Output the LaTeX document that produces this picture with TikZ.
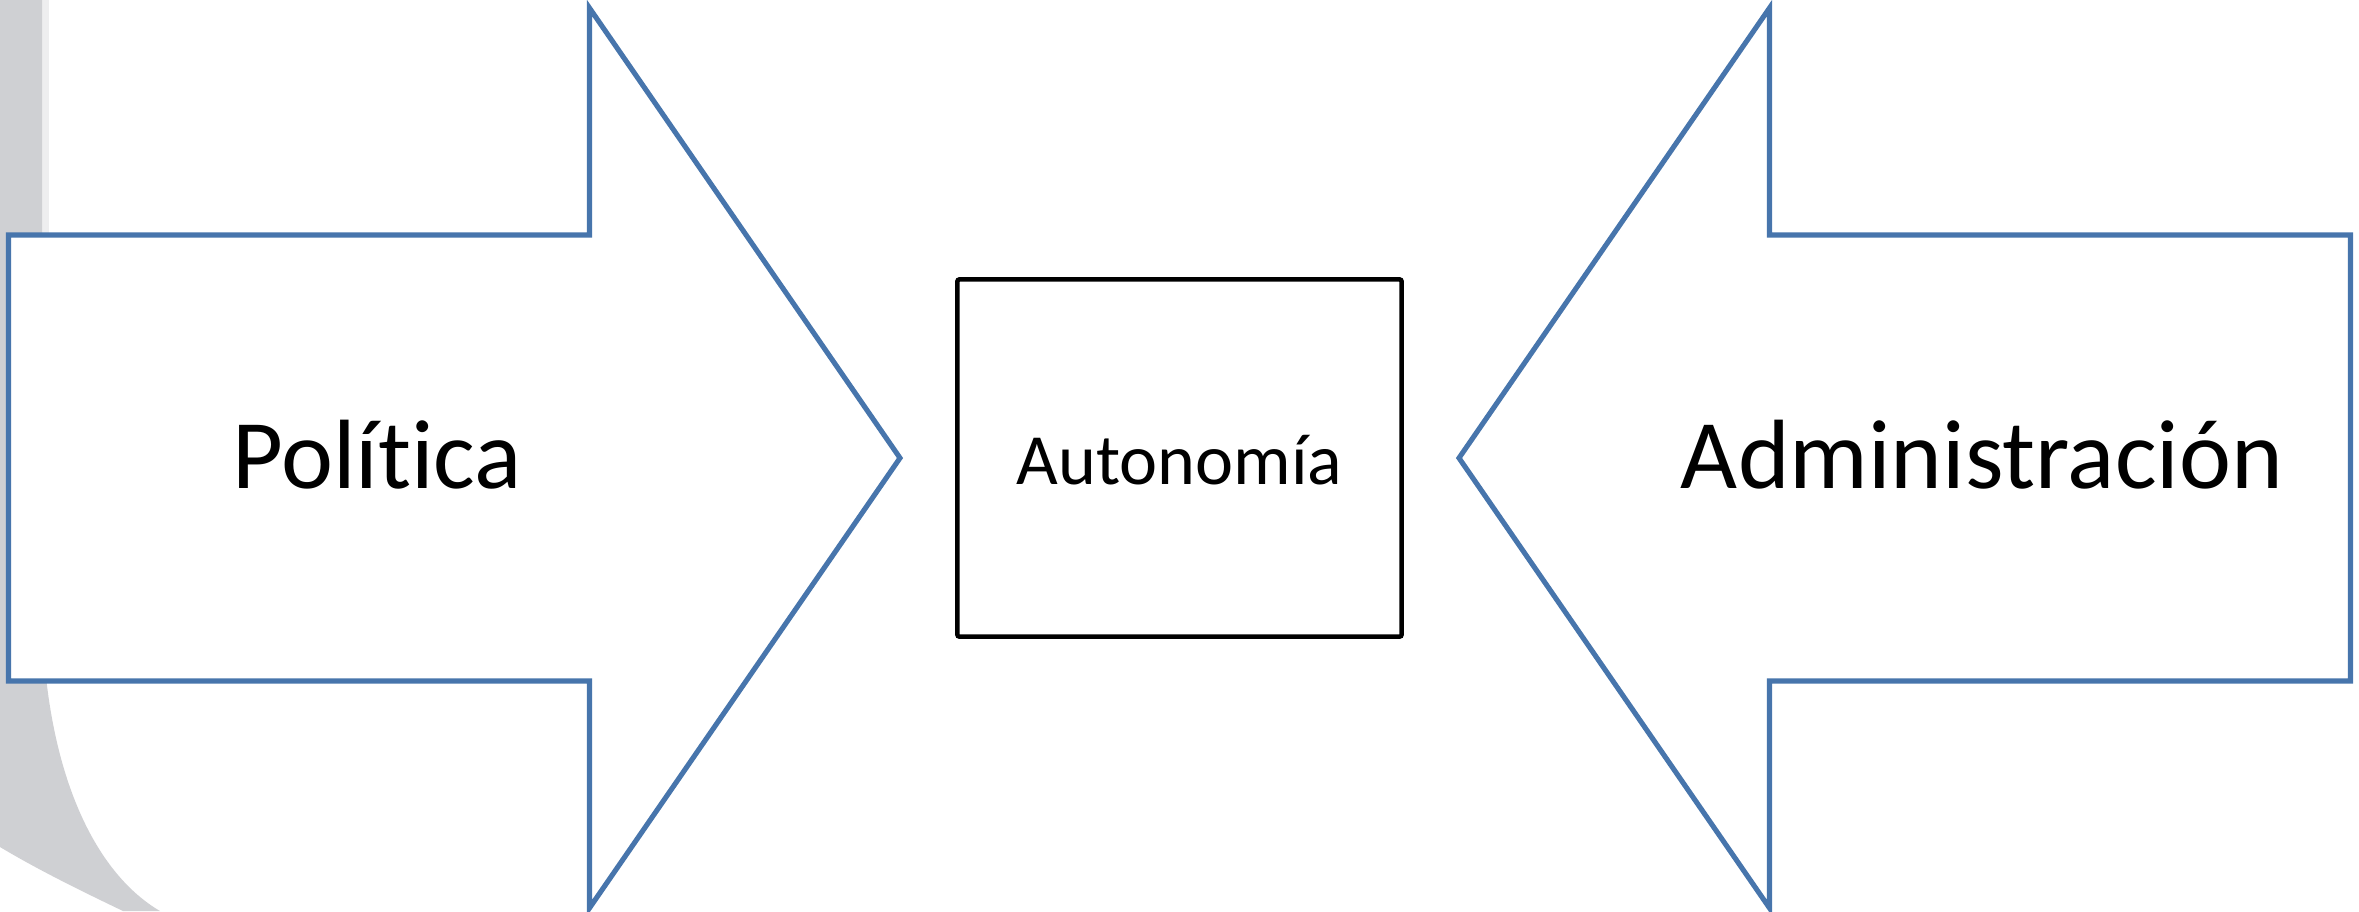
\documentclass[tikz,border=0pt]{standalone}
\usepackage{fontspec}
\setmainfont{Carlito}[Ligatures={NoCommon}]
\usepackage{tikz}
\usetikzlibrary{positioning}

\definecolor{arrowblue}{RGB}{71,117,172}
\definecolor{bandgrey}{RGB}{207,208,211}
\definecolor{bandlight}{RGB}{238,238,239}

\begin{document}
\begin{tikzpicture}[x=0.01cm, y=-0.01cm,
  bigarrow/.style={draw=arrowblue, fill=white, line width=1.45pt},
  centerbox/.style={draw=black, fill=white, line width=1.3pt, rounded corners=0.6pt,
    minimum width=4.44cm, minimum height=3.57cm, inner sep=0pt},
  bigtext/.style={font=\fontsize{28}{34}\selectfont, anchor=base},
  smalltext/.style={font=\fontsize{20.5}{24}\selectfont, anchor=base}]
  \useasboundingbox (0,0) rectangle (2359,911);

  % Background band
  \fill[bandlight] (42,0) rectangle (49,600);
  \fill[bandgrey] (0,0) -- (42,0) -- (42,600)
    .. controls (42,760) and (90,870) .. (160,911) -- (123,911)
    .. controls (75,888) and (35,868) .. (0,847) -- cycle;

  % Arrows
  \draw[bigarrow] (8.5,235) -- (589.5,235) -- (589.5,8) -- (900,458)
    -- (589.5,908) -- (589.5,681) -- (8.5,681) -- cycle;
  \draw[bigarrow] (2350.5,235) -- (1769.5,235) -- (1769.5,8) -- (1459,458)
    -- (1769.5,908) -- (1769.5,681) -- (2350.5,681) -- cycle;

  % Middle box
  \node[centerbox] (box) at (1179.5,458) {};

  % Labels
  \node[bigtext] (politica) at (377,488) {Política};
  \node[bigtext] (administracion) at (1982,488) {Administración};
  \node[smalltext] (autonomia) at (1179.5,484) {Autonomía};
\end{tikzpicture}
\end{document}
